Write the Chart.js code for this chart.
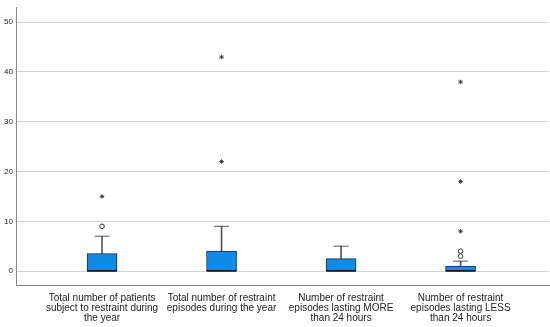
<!DOCTYPE html>
<html>
<head>
<meta charset="utf-8">
<script src="https://cdn.jsdelivr.net/npm/chart.js@4"></script>
<style>
  html, body { margin: 0; padding: 0; background: #fff; overflow: hidden; }
  #wrap { position: relative; width: 550px; height: 327px; }
</style>
</head>
<body>
<div id="wrap"><canvas id="chart"></canvas></div>
<script>
// categories (x positions 1..4)
const categories = [
  ['Total number of patients', 'subject to restraint during', 'the year'],
  ['Total number of restraint', 'episodes during the year'],
  ['Number of restraint', 'episodes lasting MORE', 'than 24 hours'],
  ['Number of restraint', 'episodes lasting LESS', 'than 24 hours']
];
const q1 = [0, 0, 0, 0];
const median = [0, 0, 0, 0];
const q3 = [3.5, 4, 2.5, 1];
const whiskerHigh = [7, 9, 5, 2];
// outliers: [category index, value]
const outlierCircles = [[1, 9], [4, 3], [4, 4]];
const outlierStars = [[1, 15], [2, 22], [2, 43], [4, 8], [4, 18], [4, 38]];
const yTicks = [0, 10, 20, 30, 40, 50];

const xPos = categories.map((c, i) => i + 1);
const boxColor = '#108ce6';
const edge = '#1c2a44';

new Chart(document.getElementById('chart'), {
  data: {
    datasets: [
      {
        type: 'bar',
        data: xPos.map((x, i) => ({ x: x, y: [q3[i], whiskerHigh[i]] })),
        backgroundColor: '#555',
        barThickness: 1,
        grouped: false,
        order: 3
      },
      {
        type: 'bar',
        data: xPos.map((x, i) => ({ x: x, y: [q1[i], q3[i]] })),
        backgroundColor: boxColor,
        borderColor: edge,
        borderWidth: 1,
        borderSkipped: false,
        barThickness: 30,
        grouped: false,
        order: 2
      },
      {
        type: 'scatter',
        data: xPos.map((x, i) => ({ x: x, y: whiskerHigh[i] })),
        pointStyle: 'line',
        radius: 7.5,
        borderColor: '#555',
        borderWidth: 1,
        order: 1
      },
      {
        type: 'scatter',
        data: xPos.map((x, i) => ({ x: x, y: median[i] })),
        pointStyle: 'line',
        radius: 15,
        borderColor: '#111',
        borderWidth: 1.6,
        order: 0
      },
      {
        type: 'scatter',
        data: outlierCircles.map(o => ({ x: o[0], y: o[1] })),
        pointStyle: 'circle',
        radius: 2.3,
        borderColor: '#333',
        backgroundColor: '#fff',
        borderWidth: 1,
        order: 0
      },
      {
        type: 'scatter',
        data: outlierStars.map(o => ({ x: o[0], y: o[1] })),
        pointStyle: 'star',
        radius: 2.3,
        borderColor: '#333',
        borderWidth: 0.9,
        order: 0
      }
    ]
  },
  options: {
    responsive: true,
    maintainAspectRatio: false,
    animation: false,
    layout: { autoPadding: false, padding: { top: 5, right: 1, left: 0, bottom: 0 } },
    plugins: { legend: { display: false }, tooltip: { enabled: false } },
    scales: {
      x: {
        type: 'linear',
        offset: false,
        min: 0.28,
        max: 4.74,
        grid: { display: false, offset: false },
        border: { display: true, color: '#888', width: 1 },
        afterBuildTicks: s => { s.ticks = xPos.map(v => ({ value: v })); },
        afterFit: s => { s.height = 42; s.paddingLeft = 0; s.paddingRight = 0; },
        ticks: {
          autoSkip: false,
          maxRotation: 0,
          padding: 0,
          color: '#222',
          font: { family: 'Liberation Sans, Arial, sans-serif', size: 10, lineHeight: 1.0 },
          callback: v => categories[v - 1]
        }
      },
      y: {
        min: -2.8,
        max: 52.9,
        grid: { color: '#d2d2d2', lineWidth: 1, drawTicks: false },
        border: { display: true, color: '#888', width: 1 },
        afterBuildTicks: s => { s.ticks = yTicks.map(v => ({ value: v })); },
        afterFit: s => { s.width = 16; },
        ticks: {
          padding: 3,
          color: '#222',
          font: { family: 'Liberation Sans, Arial, sans-serif', size: 8 }
        }
      }
    }
  }
});
</script>
</body>
</html>
